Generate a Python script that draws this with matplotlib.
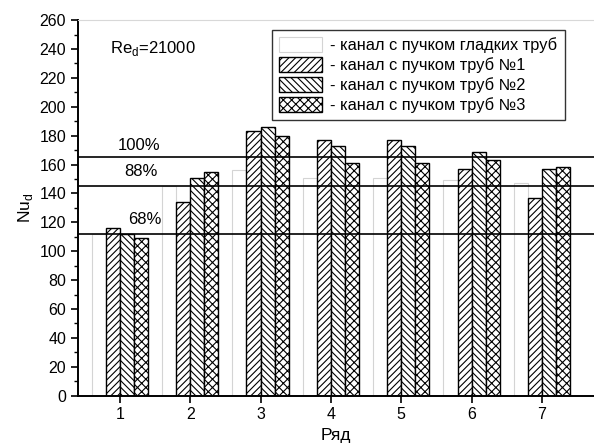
import numpy as np
import matplotlib.pyplot as plt

plt.rcParams['font.family'] = ['Liberation Sans', 'DejaVu Sans']
plt.rcParams['hatch.linewidth'] = 0.8

rows = [1, 2, 3, 4, 5, 6, 7]
nu_smooth = [112, 145, 156, 151, 151, 149, 147]
nu_tube1 = [116, 134, 183, 177, 177, 157, 137]
nu_tube2 = [112, 151, 186, 173, 173, 169, 157]
nu_tube3 = [109, 155, 180, 161, 161, 163, 158]
levels = [165, 145, 112]
level_labels = ['100%', '88%', '68%']
labels = ['- канал с пучком гладких труб', '- канал с пучком труб №1',
          '- канал с пучком труб №2', '- канал с пучком труб №3']

fig = plt.figure(figsize=(5.94, 4.47), dpi=100)
ax = fig.add_axes([0.131, 0.115, 0.869, 0.84])

x = np.array(rows)
w = 0.2
ax.bar(x - 1.5*w, nu_smooth, w, facecolor='white', edgecolor='#d4d4d4', lw=0.8, label=labels[0])
ax.bar(x - 0.5*w, nu_tube1, w, facecolor='white', edgecolor='black', hatch='/////', lw=1.0, label=labels[1])
ax.bar(x + 0.5*w, nu_tube2, w, facecolor='white', edgecolor='black', hatch='\\\\\\\\\\', lw=1.0, label=labels[2])
ax.bar(x + 1.5*w, nu_tube3, w, facecolor='white', edgecolor='black', hatch='xxxx', lw=1.0, label=labels[3])

for lv in levels:
    ax.axhline(lv, color='black', lw=1.2, zorder=3)

# подписи уровней
ax.text(1.28, 173, level_labels[0], fontsize=12, ha='center', va='center')
ax.text(1.30, 155, level_labels[1], fontsize=12, ha='center', va='center')
ax.text(1.36, 122, level_labels[2], fontsize=12, ha='center', va='center')
ax.text(0.86, 240, 'Re$_\\mathregular{d}$=21000', fontsize=12, va='center')

ax.set_xlim(0.403, 7.74)
ax.set_ylim(0, 260)
ax.set_xticks(rows)
ax.set_yticks(np.arange(0, 261, 20))
ax.set_yticks(np.arange(10, 260, 20), minor=True)
ax.tick_params(axis='both', direction='out', labelsize=11.5, width=1.2, length=5)
ax.tick_params(axis='y', which='minor', direction='out', width=1.0, length=3)
ax.spines['right'].set_visible(False)
ax.spines['top'].set_color('#d8d8d8')
ax.spines['left'].set_linewidth(1.4)
ax.spines['bottom'].set_linewidth(1.4)

ax.set_xlabel('Ряд', fontsize=12.5, labelpad=4)
ax.set_ylabel('Nu$_\\mathregular{d}$', fontsize=12.5, labelpad=3)

leg = ax.legend(loc='upper left', bbox_to_anchor=(0.376, 0.975), fontsize=11.8,
                frameon=True, fancybox=False, edgecolor='black', handlelength=2.6,
                handleheight=1.0, handletextpad=0.5, labelspacing=0.25, borderpad=0.45,
                borderaxespad=0)
leg.get_frame().set_linewidth(1.0)

fig.savefig('out.png', dpi=100)
